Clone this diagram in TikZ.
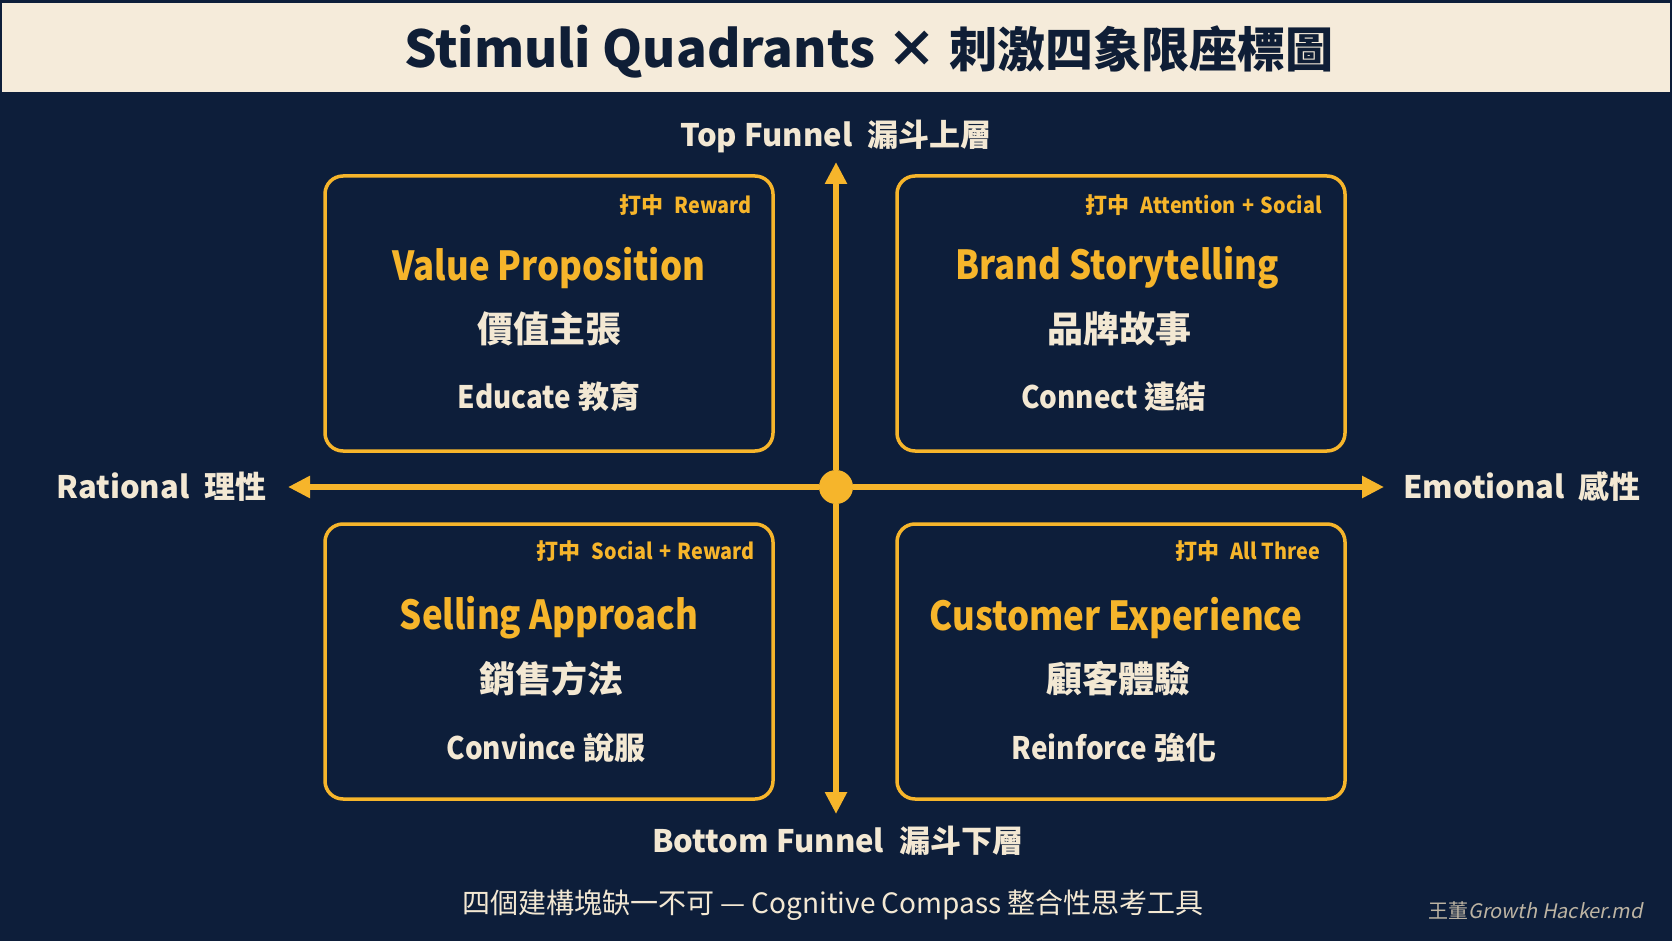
\documentclass[tikz,border=0pt]{standalone}
\usepackage{fontspec}
\setmainfont{Noto Sans CJK TC}
\newfontfamily\wmfont{Noto Sans CJK TC}[FakeSlant=0.2]
\newfontfamily\latc{Noto Sans CJK TC}[FakeStretch=0.87]
\newfontfamily\latt{Noto Sans CJK TC}[FakeStretch=0.9]
\usetikzlibrary{arrows.meta,calc}
\definecolor{bg}{HTML}{0D1E3A}
\definecolor{band}{HTML}{F5EBDA}
\definecolor{ink}{HTML}{0F1E36}
\definecolor{gold}{HTML}{F6B52B}
\definecolor{cream}{HTML}{F3E8D3}
\definecolor{wm}{HTML}{BDB4A3}
\newcommand{\fs}[1]{\fontsize{#1}{#1}\selectfont}
\newcommand{\tagtxt}[1]{打中\hspace{0.5em}{\latt #1}}
\newcommand{\plusgap}{\hspace{0.3em}+\hspace{0.3em}}
\tikzset{
  qbox/.style={draw=gold, line width=3.5pt, rounded corners=18pt, fill=bg, minimum width=448pt, minimum height=275pt, inner sep=0pt},
  tag/.style={text=gold, font=\fs{22}\bfseries, anchor=east, inner sep=0pt},
  qtitle/.style={text=gold, font=\fs{40}\bfseries\latc, inner sep=0pt},
  qcjk/.style={text=cream, font=\fs{36}\bfseries, inner sep=0pt},
  qsub/.style={text=cream, font=\fs{31}\bfseries, inner sep=0pt},
  axlabel/.style={text=cream, font=\fs{31}\bfseries, inner sep=0pt},
  axis/.style={draw=gold, line width=6pt, -{Triangle[length=22pt,width=21pt]}},
}
\begin{document}
\begin{tikzpicture}[x=1pt,y=-1pt]
\fill[bg] (0,0) rectangle (1672,941);
\useasboundingbox (0,0) rectangle (1672,941);
\fill[band] (2,3) rectangle (1670,92);
\node[text=ink, font=\bfseries, inner sep=0pt] (title) at (869,52) {{\fs{51}Stimuli Quadrants × }{\fs{48}刺激四象限座標圖}};

% axes
\node[circle, fill=gold, minimum size=34pt, inner sep=0pt] (c) at (836,487) {};
\coordinate (top) at (836,162);
\coordinate (bot) at (836,814);
\coordinate (lft) at (288,487);
\coordinate (rgt) at (1384,487);
\draw[axis] (c.north) -- (top);
\draw[axis] (c.south) -- (bot);
\draw[axis] (c.west) -- (lft);
\draw[axis] (c.east) -- (rgt);

\node[axlabel, anchor=south] (toplab) at (836,153) {Top Funnel\hspace{0.5em}漏斗上層};
\node[axlabel, anchor=north] (botlab) at (838,826) {Bottom Funnel\hspace{0.5em}漏斗下層};
\node[axlabel, anchor=east] (lftlab) at (267,487) {Rational\hspace{0.5em}理性};
\node[axlabel, anchor=west] (rgtlab) at (1403,487) {Emotional\hspace{0.45em}感性};

% boxes
\node[qbox] (tl) at (549,313.5) {};
\node[qbox] (tr) at (1121,313.5) {};
\node[qbox] (bl) at (549,661.5) {};
\node[qbox] (br) at (1121,661.5) {};

\node[tag] (tlt) at (752,205) {\tagtxt{Reward}};
\node[qtitle] (tlh) at (549,268) {Value Proposition};
\node[qcjk] (tlc) at (549,329) {價值主張};
\node[qsub] (tls) at (549,397) {{\latt Educate} 教育};

\node[tag] (trt) at (1322,205) {\tagtxt{Attention\plusgap Social}};
\node[qtitle] (trh) at (1117,268) {Brand Storytelling};
\node[qcjk] (trc) at (1119,329) {品牌故事};
\node[qsub] (trs) at (1114,397) {{\latt Connect} 連結};

\node[tag] (blt) at (755,551) {\tagtxt{Social\plusgap Reward}};
\node[qtitle] (blh) at (549,618) {Selling Approach};
\node[qcjk] (blc) at (551,679) {銷售方法};
\node[qsub] (bls) at (546,748) {{\latt Convince} 說服};

\node[tag] (brt) at (1320,551) {\tagtxt{All Three}};
\node[qtitle] (brh) at (1116,618) {Customer Experience};
\node[qcjk] (brc) at (1118,679) {顧客體驗};
\node[qsub] (brs) at (1114,748) {{\latt Reinforce} 強化};

\node[text=cream, font=\fs{28}, inner sep=0pt] (foot) at (833,905) {四個建構塊缺一不可 — Cognitive Compass 整合性思考工具};
\node[text=wm, font=\fs{20}, inner sep=0pt, anchor=east] (mark) at (1643,911) {王董{\wmfont Growth Hacker.md}};
\end{tikzpicture}
\end{document}
